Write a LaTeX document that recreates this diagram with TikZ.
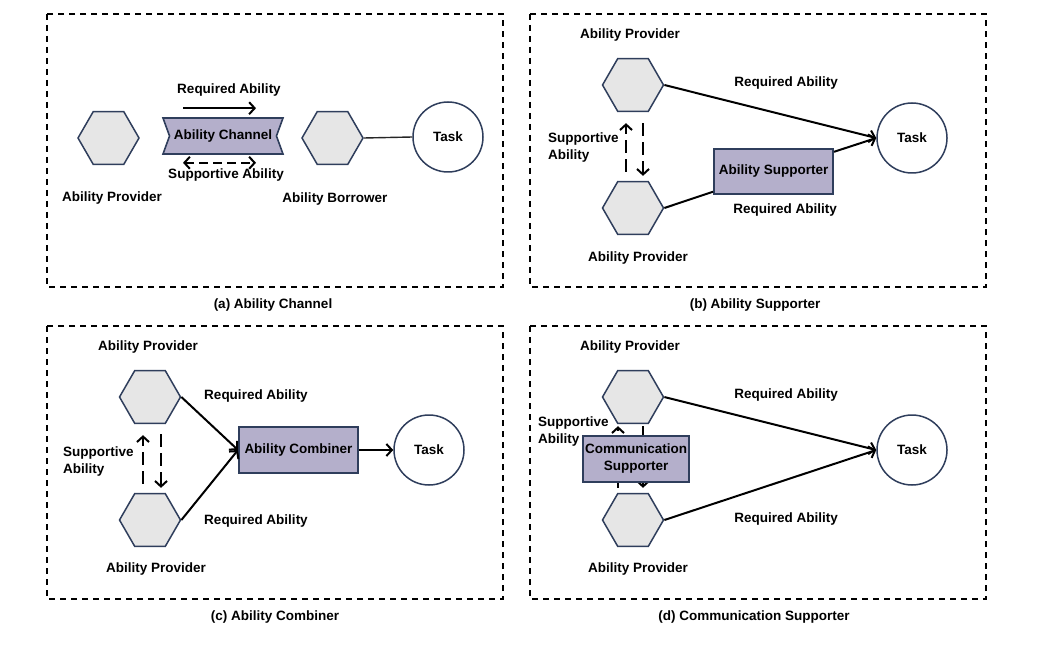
\documentclass[tikz,border=0pt]{standalone}
\usepackage{fontspec}
\setmainfont{Liberation Sans}
\usetikzlibrary{shapes.geometric}
\usetikzlibrary{shapes.symbols}
\usetikzlibrary{arrows.meta}
\usetikzlibrary{calc}
\definecolor{hexgray}{RGB}{230,230,230}
\definecolor{navy}{RGB}{47,62,92}
\definecolor{lavender}{RGB}{180,175,203}
\tikzset{
     hexa/.style={regular polygon, regular polygon sides=6, minimum size=61pt,
          inner sep=0pt, draw=navy, fill=hexgray, line width=1.5pt},
     task/.style={circle, minimum size=70pt, inner sep=0pt, draw=navy, fill=white, line width=1.5pt},
     unit/.style={rectangle, minimum width=119pt, minimum height=46pt, inner sep=2pt,
          draw=navy, fill=lavender, line width=2pt},
     chan/.style={signal, signal to=nothing, signal from=west and east, signal pointer angle=140,
          minimum width=120pt, minimum height=36pt, inner sep=2pt,
          draw=navy, fill=lavender, line width=1.6pt},
     req/.style={->, line width=2pt},
     supp/.style={->, line width=2pt, dash pattern=on 13pt off 6pt},
     frame/.style={line width=1.8pt, dash pattern=on 6pt off 5pt},
}
\tikzset{>={Straight Barb[length=5.5pt,width=12pt]}}
\begin{document}
\begin{tikzpicture}[x=1pt, y=-1pt, font=\fontsize{13.5}{17}\selectfont\bfseries]
      \useasboundingbox (0,0) rectangle (1048,652);

      % (a)
      \begin{scope}[shift={(0,0)}]
       \draw[frame] (47,14) rectangle (503,287);
       \node (capa) at (273,305) {(a) Ability Channel};
       \node[hexa] (prov) at (108.5,138) {};
       \node[hexa] (borr) at (332.5,138) {};
       \node[chan] (chan) at (223,136) {Ability Channel};
       \node[task] (taska) at (448,137) {Task};
       \node (provl) at (112,198) {Ability Provider};
       \node (borrl) at (335,199) {Ability Borrower};
       \node (reqa) at (229,90) {Required Ability};
       \node (suppa) at (226,175) {Supportive Ability};
       \draw[req] ($(chan.north)+(-40,-9)$) -- ($(chan.north)+(33,-9)$);
       \draw[supp,<->,dash pattern=on 9pt off 5pt] ($(chan.south)+(-40,8)$) -- ($(chan.south)+(33,8)$);
       \draw[line width=1.4pt,black!85] (borr.east) -- (taska.west);
      \end{scope}

      % (b)
      \begin{scope}[shift={(483,0)}]
       \draw[frame] (47,14) rectangle (503,287);
       \node (capb) at (272,305) {(b) Ability Supporter};
       \node[hexa] (provb1) at (150,85) {};
       \node[hexa] (provb2) at (150,208) {};
       \node[task] (taskb) at (429,138) {Task};
       \node[unit, minimum height=45pt] (sup) at (290.5,171.5) {Ability Supporter};
       \node (provb1l) at (147,35) {Ability Provider};
       \node (provb2l) at (155,258) {Ability Provider};
       \node (reqb1) at (303,83) {Required Ability};
       \node (reqb2) at (302,210) {Required Ability};
       \node[anchor=west, align=left, inner sep=0pt] (suppb) at (65,148) {Supportive\\Ability};
       \draw[supp] ($(provb2.north)+(-7,-9)$) -- ($(provb1.south)+(-7,11)$);
       \draw[supp] ($(provb1.south)+(10,11)$) -- ($(provb2.north)+(10,-5)$);
       \draw[req] (provb1.east) -- (taskb.west);
       \draw[line width=2pt] (provb2.east) -- (sup);
       \draw[req] (sup) -- (taskb.west);
      \end{scope}

      % (c)
      \begin{scope}[shift={(0,312)}]
       \draw[frame] (47,14) rectangle (503,287);
       \node (capc) at (275,305) {(c) Ability Combiner};
       \node[hexa] (provc1) at (150,85) {};
       \node[hexa] (provc2) at (150,208) {};
       \node[unit] (comb) at (298.5,138) {Ability Combiner};
       \node[task] (taskc) at (429,138) {Task};
       \node (provc1l) at (148,35) {Ability Provider};
       \node (provc2l) at (156,257) {Ability Provider};
       \node (reqc1) at (256,84) {Required Ability};
       \node (reqc2) at (256,209) {Required Ability};
       \node[anchor=west, align=left, inner sep=0pt] (suppc) at (63,150) {Supportive\\Ability};
       \draw[supp] ($(provc2.north)+(-7,-9)$) -- ($(provc1.south)+(-7,11)$);
       \draw[supp] ($(provc1.south)+(11,10)$) -- ($(provc2.north)+(11,-5)$);
       \draw[req] (provc1.east) -- (comb.west);
       \draw[req] (provc2.east) -- (comb.west);
       \draw[req] (comb) -- (taskc);
      \end{scope}

      % (d)
      \begin{scope}[shift={(483,312)}]
       \draw[frame] (47,14) rectangle (503,287);
       \node (capd) at (271,305) {(d) Communication Supporter};
       \node[hexa] (provd1) at (150,85) {};
       \node[hexa] (provd2) at (150,208) {};
       \node[task] (taskd) at (429,138) {Task};
       \node (provd1l) at (147,35) {Ability Provider};
       \node (provd2l) at (155,257) {Ability Provider};
       \node (reqd1) at (303,83) {Required Ability};
       \node (reqd2) at (303,207) {Required Ability};
       \node[anchor=west, align=left, inner sep=0pt] (suppd) at (55,120) {Supportive\\Ability};
       \draw[supp] ($(provd2.north)+(-15,-5)$) -- ($(provd1.south)+(-15,2)$);
       \draw[supp] ($(provd1.south)+(10,2)$) -- ($(provd2.north)+(10,-5)$);
       \draw[req] (provd1.east) -- (taskd.west);
       \draw[req] (provd2.east) -- (taskd.west);
       \node[unit, minimum width=106pt, align=center] (comm) at (153,147) {Communication\\Supporter};
      \end{scope}

\end{tikzpicture}
\end{document}
